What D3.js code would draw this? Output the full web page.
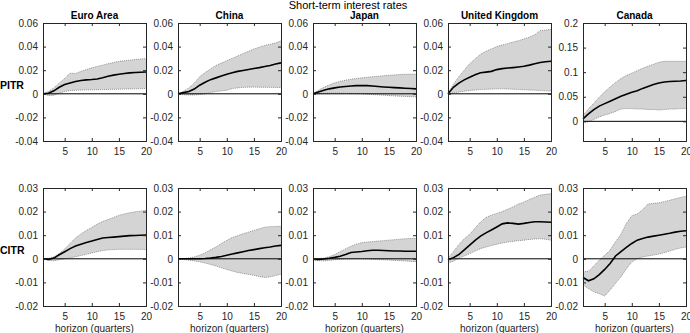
<!DOCTYPE html>
<html>
<head>
<meta charset="utf-8">
<script src="https://cdn.jsdelivr.net/npm/d3@7"></script>
<style>
  body { margin: 0; background: #fff; }
  svg { font-family: "Liberation Sans", Arial, Helvetica, sans-serif; }
  .axis path, .axis line { stroke: #262626; }
  .axis text { fill: #262626; font-size: 10px; }
</style>
</head>
<body>
<div id="chart"></div>
<script>
var horizon = [1, 2, 3, 4, 5, 6, 7, 8, 9, 10, 11, 12, 13, 14, 15, 16, 17, 18, 19, 20];
var countries = ["Euro Area", "China", "Japan", "United Kingdom", "Canada"];
var rowLabels = ["PITR", "CITR"];
var xTicks = [5, 10, 15, 20];
var yTicksTop = [-0.04, -0.02, 0, 0.02, 0.04, 0.06];
var yTicksTopCanada = [0, 0.05, 0.1, 0.15, 0.2];
var yTicksBottom = [-0.02, -0.01, 0, 0.01, 0.02, 0.03];

// PITR (top row)
var euroPitrMean = [0, 0.0005, 0.0025, 0.0055, 0.0078, 0.0092, 0.0105, 0.0113, 0.0118, 0.0121, 0.0126, 0.0136, 0.0148, 0.0158, 0.0166, 0.0172, 0.0177, 0.018, 0.0183, 0.0185];
var euroPitrHi = [0, 0.002, 0.005, 0.009, 0.013, 0.0175, 0.0172, 0.019, 0.0205, 0.022, 0.0232, 0.0243, 0.0255, 0.0265, 0.0275, 0.028, 0.0285, 0.029, 0.0295, 0.0298];
var euroPitrLo = [0, -0.0015, -0.0012, 0.0005, 0.002, 0.0028, 0.003, 0.0032, 0.0033, 0.0034, 0.0035, 0.0036, 0.0037, 0.0038, 0.0039, 0.004, 0.0041, 0.0042, 0.0043, 0.0045];

var chinaPitrMean = [0, 0.001, 0.002, 0.004, 0.0073, 0.0098, 0.012, 0.0135, 0.015, 0.0165, 0.0178, 0.019, 0.0198, 0.0206, 0.0214, 0.0222, 0.0232, 0.024, 0.0252, 0.0262];
var chinaPitrHi = [0, 0.002, 0.005, 0.009, 0.0145, 0.018, 0.021, 0.024, 0.026, 0.028, 0.03, 0.032, 0.034, 0.036, 0.038, 0.0395, 0.041, 0.042, 0.043, 0.045];
var chinaPitrLo = [0, -0.0008, -0.001, -0.001, -0.0006, 0, 0.001, 0.002, 0.0025, 0.003, 0.0045, 0.005, 0.0055, 0.0056, 0.0057, 0.0056, 0.0055, 0.0055, 0.0054, 0.0054];

var japanPitrMean = [0, 0.0015, 0.003, 0.0042, 0.005, 0.0057, 0.0062, 0.0066, 0.0069, 0.007, 0.0069, 0.0066, 0.0062, 0.0058, 0.0055, 0.0052, 0.005, 0.0047, 0.0045, 0.0042];
var japanPitrHi = [0, 0.003, 0.0055, 0.0075, 0.0093, 0.0105, 0.0115, 0.0123, 0.013, 0.0135, 0.014, 0.0145, 0.0149, 0.0153, 0.0157, 0.016, 0.0163, 0.0165, 0.0166, 0.0167];
var japanPitrLo = [0, 0, 0.0003, 0.0005, 0.0005, 0.0005, 0.0004, 0.0003, 0.0002, 0, -0.0003, -0.0006, -0.0009, -0.0012, -0.0015, -0.0018, -0.002, -0.0022, -0.0024, -0.0026];

var ukPitrMean = [0, 0.0055, 0.009, 0.0118, 0.0141, 0.0162, 0.0178, 0.0184, 0.019, 0.0205, 0.0213, 0.0218, 0.0222, 0.0227, 0.0233, 0.0243, 0.0255, 0.0265, 0.0272, 0.0276];
var ukPitrHi = [0, 0.008, 0.0145, 0.02, 0.0255, 0.0295, 0.0335, 0.036, 0.038, 0.04, 0.0413, 0.0425, 0.0438, 0.045, 0.0465, 0.048, 0.05, 0.0535, 0.054, 0.0546];
var ukPitrLo = [0, 0.0008, 0.0015, 0.0022, 0.0028, 0.0032, 0.0036, 0.0038, 0.004, 0.0042, 0.0042, 0.0041, 0.0039, 0.0037, 0.0034, 0.0032, 0.003, 0.0028, 0.0025, 0.0023];

var canadaPitrMean = [0.005, 0.015, 0.024, 0.031, 0.036, 0.041, 0.046, 0.051, 0.055, 0.059, 0.062, 0.067, 0.071, 0.075, 0.078, 0.08, 0.081, 0.0815, 0.082, 0.083];
var canadaPitrHi = [0.012, 0.025, 0.037, 0.049, 0.06, 0.07, 0.079, 0.087, 0.093, 0.098, 0.103, 0.108, 0.112, 0.116, 0.12, 0.122, 0.122, 0.122, 0.122, 0.122];
var canadaPitrLo = [-0.002, -0.001, 0.004, 0.009, 0.013, 0.016, 0.02, 0.025, 0.026, 0.026, 0.025, 0.025, 0.024, 0.024, 0.023, 0.024, 0.025, 0.025, 0.026, 0.026];

// CITR (bottom row)
var euroCitrMean = [0, -0.0003, 0.0003, 0.0017, 0.003, 0.0043, 0.0054, 0.0062, 0.0069, 0.0075, 0.0082, 0.0088, 0.009, 0.0092, 0.0094, 0.0096, 0.0098, 0.0099, 0.01, 0.0101];
var euroCitrHi = [0, 0.0002, 0.0008, 0.0022, 0.0042, 0.0065, 0.0088, 0.0105, 0.012, 0.0133, 0.0147, 0.0158, 0.0166, 0.0175, 0.0184, 0.019, 0.0195, 0.0199, 0.0202, 0.0205];
var euroCitrLo = [0, -0.0007, -0.0008, -0.0004, 0, 0.0004, 0.0009, 0.0014, 0.0019, 0.0025, 0.003, 0.0035, 0.0038, 0.0039, 0.004, 0.004, 0.004, 0.004, 0.004, 0.0039];

var chinaCitrMean = [0, 0, 0, 0, 0, 0.0001, 0.0003, 0.0006, 0.001, 0.0015, 0.002, 0.0025, 0.003, 0.0035, 0.0039, 0.0043, 0.0047, 0.005, 0.0054, 0.0057];
var chinaCitrHi = [0, 0.0001, 0.0003, 0.0008, 0.0015, 0.0025, 0.0038, 0.005, 0.0065, 0.0078, 0.009, 0.0098, 0.0106, 0.0113, 0.012, 0.0127, 0.0134, 0.0136, 0.0137, 0.0138];
var chinaCitrLo = [0, -0.0003, -0.0006, -0.0009, -0.0013, -0.0018, -0.0024, -0.003, -0.0038, -0.0045, -0.0052, -0.0058, -0.0062, -0.0066, -0.007, -0.0075, -0.0079, -0.0076, -0.0071, -0.0065];

var japanCitrMean = [-0.0002, -0.0003, -0.0001, 0.0002, 0.0006, 0.0011, 0.0018, 0.0027, 0.0029, 0.0031, 0.0034, 0.0036, 0.0036, 0.0035, 0.0034, 0.0033, 0.0033, 0.0032, 0.0032, 0.0032];
var japanCitrHi = [0, 0.0001, 0.0003, 0.0009, 0.0018, 0.003, 0.0042, 0.0053, 0.0062, 0.0068, 0.0071, 0.0073, 0.0075, 0.0077, 0.0079, 0.0081, 0.0083, 0.0085, 0.0086, 0.0087];
var japanCitrLo = [-0.0005, -0.0008, -0.0009, -0.0007, -0.0004, -0.0002, -0.0001, 0, 0, 0, -0.0001, -0.0002, -0.0003, -0.0004, -0.0005, -0.0007, -0.0008, -0.0009, -0.0011, -0.0012];

var ukCitrMean = [-0.0004, 0.0005, 0.0018, 0.0038, 0.0058, 0.0078, 0.0096, 0.011, 0.0122, 0.0135, 0.0148, 0.0152, 0.015, 0.0147, 0.015, 0.0154, 0.0157, 0.0157, 0.0156, 0.0155];
var ukCitrHi = [0.0003, 0.003, 0.006, 0.0085, 0.0104, 0.013, 0.0156, 0.0175, 0.0185, 0.0192, 0.02, 0.021, 0.022, 0.0232, 0.024, 0.0251, 0.0261, 0.027, 0.0273, 0.0276];
var ukCitrLo = [-0.0018, -0.001, 0.0003, 0.0012, 0.0022, 0.0033, 0.0043, 0.005, 0.0056, 0.0062, 0.0067, 0.0071, 0.0074, 0.0077, 0.0079, 0.0082, 0.0084, 0.0085, 0.0083, 0.0079];

var canadaCitrMean = [-0.0079, -0.0093, -0.0085, -0.0067, -0.0045, -0.002, 0.0012, 0.003, 0.0048, 0.0065, 0.0079, 0.0086, 0.0092, 0.0096, 0.01, 0.0104, 0.0108, 0.0113, 0.0117, 0.0119];
var canadaCitrHi = [-0.0055, -0.0053, -0.003, -0.0006, 0.0015, 0.0037, 0.0072, 0.0104, 0.015, 0.0182, 0.019, 0.0208, 0.0232, 0.0235, 0.0237, 0.0242, 0.0248, 0.0254, 0.026, 0.0265];
var canadaCitrLo = [-0.0111, -0.0126, -0.014, -0.0148, -0.0158, -0.0132, -0.0104, -0.0076, -0.0042, -0.0014, 0.0001, 0.0008, 0.0012, 0.0016, 0.002, 0.0026, 0.0033, 0.004, 0.0046, 0.005];

function makePanels() {
    var top = [
        [euroPitrMean, euroPitrLo, euroPitrHi],
        [chinaPitrMean, chinaPitrLo, chinaPitrHi],
        [japanPitrMean, japanPitrLo, japanPitrHi],
        [ukPitrMean, ukPitrLo, ukPitrHi],
        [canadaPitrMean, canadaPitrLo, canadaPitrHi]
    ];
    var bottom = [
        [euroCitrMean, euroCitrLo, euroCitrHi],
        [chinaCitrMean, chinaCitrLo, chinaCitrHi],
        [japanCitrMean, japanCitrLo, japanCitrHi],
        [ukCitrMean, ukCitrLo, ukCitrHi],
        [canadaCitrMean, canadaCitrLo, canadaCitrHi]
    ];
    var panels = [];
    for (var c = 0; c < countries.length; c++) {
        panels.push({
            row: 0, col: c, series: top[c],
            domain: c === 4 ? [-0.04, 0.2] : [-0.04, 0.06],
            ticks: c === 4 ? yTicksTopCanada : yTicksTop
        });
        panels.push({
            row: 1, col: c, series: bottom[c],
            domain: [-0.02, 0.03],
            ticks: yTicksBottom
        });
    }
    return panels;
}

function fmt(d) {
    return d === 0 ? "0" : String(+d.toFixed(4));
}

function drawChart() {
    var width = 690, height = 333;
    var colLeft = [43, 178, 313, 448, 583],
        panelW = 103,
        rowTop = [23, 188],
        panelH = 118;

    var svg = d3.select("#chart")
                .append("svg")
                .attr("width", width)
                .attr("height", height);

    svg.append("text")
        .attr("x", 348)
        .attr("y", 8.5)
        .attr("text-anchor", "middle")
        .attr("font-size", 11)
        .attr("fill", "#000")
        .text("Short-term interest rates");

    rowLabels.forEach(function(lbl, r) {
        svg.append("text")
            .attr("x", 0)
            .attr("y", rowTop[r] + 66)
            .attr("font-size", 10.5)
            .attr("font-weight", "bold")
            .attr("fill", "#000")
            .text(lbl);
    });

    makePanels().forEach(function(p) {
        var x0 = colLeft[p.col], y0 = rowTop[p.row];
        var g = svg.append("g").attr("transform", "translate(" + x0 + "," + y0 + ")");

        var x = d3.scaleLinear().domain([1, 20]).range([0, panelW]);
        var y = d3.scaleLinear().domain(p.domain).range([panelH, 0]);

        var mean = p.series[0], lo = p.series[1], hi = p.series[2];
        var pts = horizon.map(function(h, i) {
            return { h: h, m: mean[i], lo: lo[i], hi: hi[i] };
        });

        g.append("path")
            .datum(pts)
            .attr("fill", "#d4d4d4")
            .attr("d", d3.area()
                .x(function(d) { return x(d.h); })
                .y0(function(d) { return y(d.lo); })
                .y1(function(d) { return y(d.hi); }));

        ["lo", "hi"].forEach(function(k) {
            g.append("path")
                .datum(pts)
                .attr("fill", "none")
                .attr("stroke", "#7a7a7a")
                .attr("stroke-width", 0.8)
                .attr("stroke-dasharray", "1,1")
                .attr("d", d3.line()
                    .x(function(d) { return x(d.h); })
                    .y(function(d) { return y(d[k]); }));
        });

        g.append("line")
            .attr("x1", 0).attr("x2", panelW)
            .attr("y1", y(0)).attr("y2", y(0))
            .attr("stroke", "#000")
            .attr("stroke-width", 1);

        g.append("path")
            .datum(pts)
            .attr("fill", "none")
            .attr("stroke", "#000")
            .attr("stroke-width", 1.6)
            .attr("d", d3.line()
                .x(function(d) { return x(d.h); })
                .y(function(d) { return y(d.m); }));

        // MATLAB style box with inward ticks
        g.append("g").attr("class", "axis")
            .attr("transform", "translate(0," + panelH + ")")
            .call(d3.axisBottom(x).tickValues(xTicks).tickSize(-3).tickPadding(7).tickFormat(d3.format("d")));
        g.append("g").attr("class", "axis")
            .call(d3.axisTop(x).tickValues(xTicks).tickSize(-3).tickFormat(""));
        g.append("g").attr("class", "axis")
            .call(d3.axisLeft(y).tickValues(p.ticks).tickSize(-3).tickPadding(5).tickFormat(fmt));
        g.append("g").attr("class", "axis")
            .attr("transform", "translate(" + panelW + ",0)")
            .call(d3.axisRight(y).tickValues(p.ticks).tickSize(-3).tickFormat(""));

        if (p.row === 0) {
            g.append("text")
                .attr("x", panelW / 2)
                .attr("y", -4)
                .attr("text-anchor", "middle")
                .attr("font-size", 10)
                .attr("font-weight", "bold")
                .attr("fill", "#000")
                .text(countries[p.col]);
        } else {
            g.append("text")
                .attr("x", panelW / 2)
                .attr("y", panelH + 26)
                .attr("text-anchor", "middle")
                .attr("font-size", 10)
                .attr("fill", "#262626")
                .text("horizon (quarters)");
        }
    });
}

drawChart();
</script>
</body>
</html>
